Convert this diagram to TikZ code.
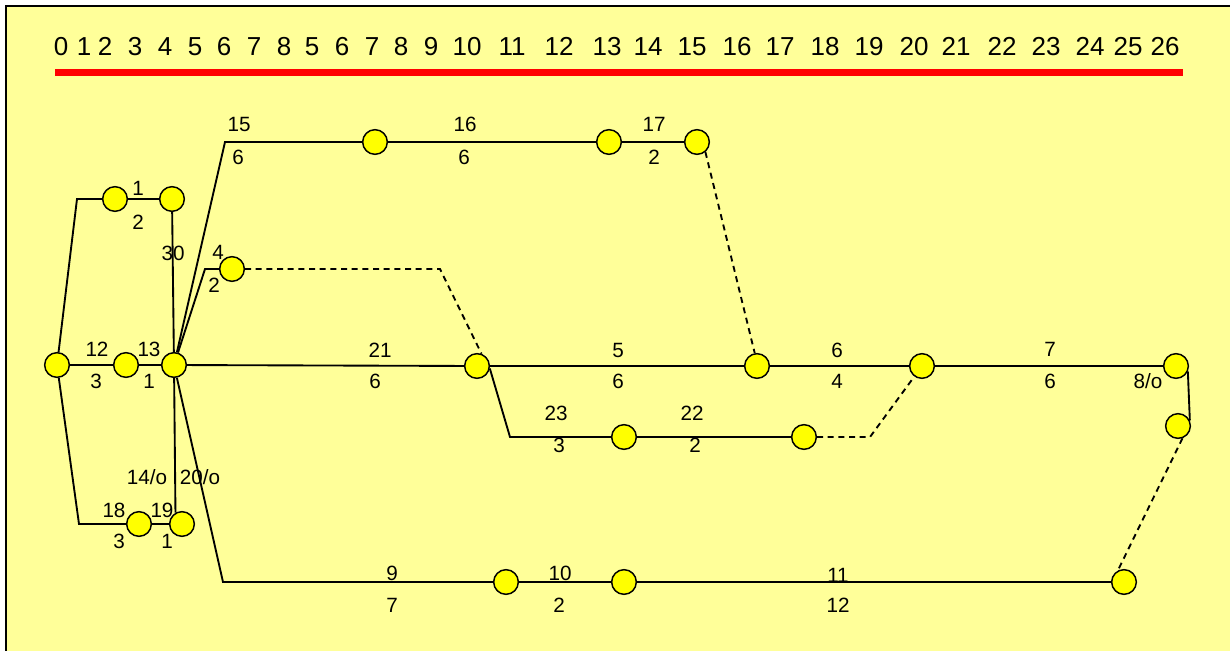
\documentclass[tikz,border=0pt]{standalone}
\usepackage{fontspec}
\setmainfont{Liberation Sans}
\setsansfont{Liberation Sans}
\usepackage{tikz}

\definecolor{paper}{HTML}{FFFF99}
\definecolor{evfill}{HTML}{FFFF00}

\begin{document}
\begin{tikzpicture}[
  x=0.75pt, y=-0.75pt,
  font=\sffamily,
  ev/.style={circle, draw, line width=1.1pt, fill=evfill, minimum size=18.5pt, inner sep=0pt},
  lbl/.style={font=\sffamily\fontsize{15.5}{18}\selectfont, inner sep=0pt, text height=0.72em, text depth=0pt},
  tick/.style={font=\sffamily\fontsize{19.5}{22}\selectfont, inner sep=0pt, text height=0.72em, text depth=0pt},
  work/.style={line width=1.4pt},
  dummy/.style={line width=1.4pt, dash pattern=on 4.5pt off 3.5pt}
]
\useasboundingbox (0,0) rectangle (1230,650);
\clip (0,0) rectangle (1230,650);
\fill[white] (0,0) rectangle (1230,650);
\draw[line width=1.5pt, fill=paper] (6,6) rectangle (1260,680);

% time scale
\foreach \x/\t [count=\i] in {61/0, 84/1, 105/2, 135/3, 165/4, 195/5, 224/6, 254/7,
    284/8, 312/5, 342/6, 372/7, 401/8, 431/9, 467/10, 512/11, 559/12, 607/13,
    648/14, 692/15, 737/16, 780/17, 825/18, 869/19, 914/20, 956/21, 1002/22,
    1046/23, 1090/24, 1128/25, 1165/26}
  \node[tick] (tk\i) at (\x,51) {\t};
\coordinate (r0) at (55,72);
\coordinate (r1) at (1183,72);
\draw[red, line width=5.25pt] (r0) -- (r1);

% events
\node[ev] (s) at (57,365) {};
\node[ev] (n3) at (126,365) {};
\node[ev] (h) at (174,365) {};
\node[ev] (n1) at (115,199) {};
\node[ev] (n2) at (172,199) {};
\node[ev] (n4) at (375,142) {};
\node[ev] (n5) at (609,142) {};
\node[ev] (n6) at (697,142) {};
\node[ev] (n7) at (232,269) {};
\node[ev] (n8) at (477,366) {};
\node[ev] (n9) at (757,366) {};
\node[ev] (n10) at (922,366) {};
\node[ev] (n11) at (1176,366) {};
\node[ev] (n14) at (1178,426) {};
\node[ev] (n12) at (624,437) {};
\node[ev] (n13) at (804,437) {};
\node[ev] (n15) at (506,582) {};
\node[ev] (n16) at (624,582) {};
\node[ev] (n17) at (1124,582) {};
\node[ev] (n18) at (139,524) {};
\node[ev] (n19) at (182,524) {};

% bends
\coordinate (k1) at (77,199);
\coordinate (k2) at (225,142);
\coordinate (k3) at (205,269);
\coordinate (k4) at (440,269);
\coordinate (k5) at (510,437);
\coordinate (k6) at (870,437);
\coordinate (k7) at (223,582);
\coordinate (k8) at (79,524);

% activities
\draw[work] (s) -- (k1) -- (n1) -- (n2) -- (h);
\draw[work] (s) -- (n3) -- (h);
\draw[work] (h) -- (k2) -- (n4) -- (n5) -- (n6);
\draw[work] (h) -- (k3) -- (n7);
\draw[work] (h) -- (n8) -- (n9) -- (n10) -- (n11);
\draw[work] (n8.-11) -- (k5) -- (n12) -- (n13);
\draw[work] (h) -- (k7) -- (n15) -- (n16) -- (n17);
\draw[work] (s) -- (k8) -- (n18) -- (n19);
\draw[work] (h) -- (n19.120);
\draw[work] (n11.-25) -- (n14.25);

% dummies
\draw[dummy] (n7) -- (k4) -- (n8.70);
\draw[dummy] (n6.-50) -- (n9.100);
\draw[dummy] (n13) -- (k6) -- (n10);
\draw[dummy] (n14.-70) -- (n17.118);

% activity labels
\foreach \x/\y/\t [count=\i] in {138/191/1, 138/225/2, 173/256/30, 218/255/4, 214/288/2,
    239/127/15, 238/160/6, 465/127/16, 464/160/6, 654/127/17, 654/160/2,
    97/352/12, 96/384/3, 149/352/13, 149/384/1,
    380/353/21, 375/384/6, 618/353/5, 618/384/6, 837/353/6, 837/384/4,
    1050/352/7, 1050/384/6, 1148/384/8\slash o,
    556/416/23, 559/448/3, 692/416/22, 695/448/2,
    147/480/14\slash o, 200/480/20\slash o, 114/513/18, 162/513/19, 119/544/3, 167/544/1,
    392/576/9, 392/608/7, 560/576/10, 559/608/2, 838/578/11, 838/608/12}
  \node[lbl] (lb\i) at (\x,\y) {\t};
\end{tikzpicture}
\end{document}
